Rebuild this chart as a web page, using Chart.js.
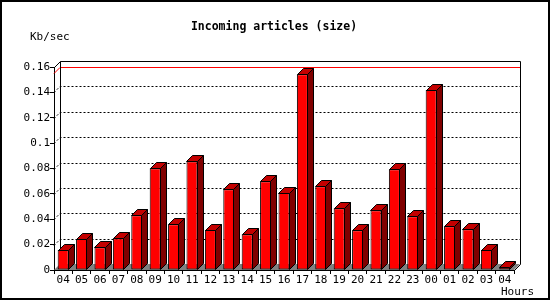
<!DOCTYPE html>
<html>
<head>
<meta charset="utf-8">
<script src="https://cdn.jsdelivr.net/npm/chart.js@4/dist/chart.umd.min.js"></script>
<style>
  html, body { margin: 0; padding: 0; background: #fff; }
  canvas { display: block; }
</style>
</head>
<body>
<canvas id="chart" width="550" height="300"></canvas>
<script>
// hours of the day, starting at 04 and wrapping round
var hours = ['04', '05', '06', '07', '08', '09', '10', '11', '12', '13', '14', '15', '16',
             '17', '18', '19', '20', '21', '22', '23', '00', '01', '02', '03', '04'];

// incoming articles, Kb/sec
var kbPerSec = [0.0158, 0.0244, 0.0179, 0.0250, 0.0431, 0.0801, 0.0360, 0.0857, 0.0315,
                0.0636, 0.0281, 0.0699, 0.0607, 0.1543, 0.0660, 0.0486, 0.0313, 0.0470,
                0.0794, 0.0423, 0.1419, 0.0344, 0.0321, 0.0158, 0.0021];

var yTicks = [0, 0.02, 0.04, 0.06, 0.08, 0.1, 0.12, 0.14, 0.16];

var DEPTH = 6;
var MONO = '"DejaVu Sans Mono", "Liberation Mono", monospace';

// back wall, floor, grid and max line -- everything that sits behind the bars
var backdrop = {
    id: 'backdrop',
    beforeDatasetsDraw: function (chart) {
        var ctx = chart.ctx, a = chart.chartArea, y = chart.scales.y, d = DEPTH;
        ctx.save();
        ctx.lineWidth = 1;

        // floor
        ctx.fillStyle = '#808080';
        ctx.beginPath();
        ctx.moveTo(a.left, a.bottom);
        ctx.lineTo(a.left + d, a.bottom - d);
        ctx.lineTo(a.right + d, a.bottom - d);
        ctx.lineTo(a.right, a.bottom);
        ctx.closePath();
        ctx.fill();

        // dotted grid on the back wall
        ctx.strokeStyle = '#000';
        ctx.setLineDash([2, 2]);
        yTicks.slice(1, -1).forEach(function (v) {
            var py = Math.round(y.getPixelForValue(v)) + 0.5;
            ctx.beginPath();
            ctx.moveTo(a.left, py);
            ctx.lineTo(a.left + d, py - d);
            ctx.lineTo(a.right + d, py - d);
            ctx.stroke();
        });
        ctx.setLineDash([]);

        // red line at the maximum
        var my = Math.round(y.getPixelForValue(Math.max.apply(null, kbPerSec))) - 0.5;
        ctx.strokeStyle = '#ff0000';
        ctx.beginPath();
        ctx.moveTo(a.left, my);
        ctx.lineTo(a.left + d, my - d);
        ctx.lineTo(a.right + d, my - d);
        ctx.stroke();

        // back wall frame
        var l = Math.round(a.left) + 0.5, r = Math.round(a.right) + 0.5;
        var t = Math.round(a.top) + 0.5, b = Math.round(a.bottom) + 0.5;
        ctx.strokeStyle = '#000';
        ctx.beginPath();
        ctx.moveTo(l, t);
        ctx.lineTo(l + d, t - d);
        ctx.lineTo(r + d, t - d);
        ctx.lineTo(r + d, b - d);
        ctx.lineTo(r, b);
        ctx.moveTo(l + d, t - d);
        ctx.lineTo(l + d, b - d);
        ctx.stroke();
        ctx.restore();
    }
};

// top and side faces of each bar
var bars3d = {
    id: 'bars3d',
    afterDatasetsDraw: function (chart) {
        var ctx = chart.ctx, d = DEPTH;
        var meta = chart.getDatasetMeta(0);
        ctx.save();
        ctx.lineWidth = 1;
        ctx.strokeStyle = '#000';
        meta.data.forEach(function (bar) {
            var p = bar.getProps(['x', 'y', 'base', 'width'], true);
            var left = Math.round(p.x - p.width / 2) + 0.5;
            var right = Math.round(p.x + p.width / 2) - 0.5;
            var top = Math.round(p.y) + 0.5;
            var base = Math.round(p.base) - 0.5;

            ctx.fillStyle = '#c40000';
            ctx.beginPath();
            ctx.moveTo(left, top);
            ctx.lineTo(left + d, top - d);
            ctx.lineTo(right + d, top - d);
            ctx.lineTo(right, top);
            ctx.closePath();
            ctx.fill();
            ctx.stroke();

            ctx.fillStyle = '#800000';
            ctx.beginPath();
            ctx.moveTo(right, top);
            ctx.lineTo(right + d, top - d);
            ctx.lineTo(right + d, base - d);
            ctx.lineTo(right, base);
            ctx.closePath();
            ctx.fill();
            ctx.stroke();
        });
        ctx.restore();
    }
};

// title, unit labels and the outer border
var extras = {
    id: 'extras',
    afterDraw: function (chart) {
        var ctx = chart.ctx;
        ctx.save();
        ctx.fillStyle = '#000';
        ctx.textBaseline = 'middle';

        ctx.font = 'bold 11.5px ' + MONO;
        ctx.textAlign = 'center';
        ctx.fillText('Incoming articles (size)', 274, 27);

        ctx.font = '11px ' + MONO;
        ctx.textAlign = 'left';
        ctx.fillText('Kb/sec', 30, 37);
        ctx.textAlign = 'right';
        ctx.fillText('Hours', 534, 292);

        ctx.lineWidth = 2;
        ctx.strokeStyle = '#000';
        ctx.strokeRect(1, 1, chart.width - 2, chart.height - 2);
        ctx.restore();
    }
};

new Chart(document.getElementById('chart'), {
    type: 'bar',
    data: {
        labels: hours,
        datasets: [{
            data: kbPerSec,
            backgroundColor: '#ff0000',
            borderColor: '#000',
            borderWidth: 1,
            borderSkipped: false,
            categoryPercentage: 1,
            barPercentage: 0.6
        }]
    },
    options: {
        responsive: false,
        animation: false,
        devicePixelRatio: 1,
        layout: { padding: { left: 0, right: 36, top: 67, bottom: 0 } },
        plugins: {
            legend: { display: false },
            tooltip: { enabled: false },
            title: { display: false }
        },
        scales: {
            x: {
                grid: { display: true, drawOnChartArea: false, drawTicks: true, tickLength: 4, color: '#000', offset: true },
                border: { display: true, color: '#000', width: 1 },
                ticks: { color: '#000', font: { family: MONO, size: 11 }, padding: 0, maxRotation: 0, autoSkip: false },
                afterFit: function (scale) { scale.height = 30; }
            },
            y: {
                min: 0,
                max: 0.16,
                afterBuildTicks: function (scale) {
                    scale.ticks = yTicks.map(function (v) { return { value: v }; });
                },
                grid: { display: true, drawOnChartArea: false, drawTicks: true, tickLength: 4, color: '#000' },
                border: { display: true, color: '#000', width: 1 },
                ticks: {
                    color: '#000',
                    font: { family: MONO, size: 11 },
                    padding: 0,
                    callback: function (v) { return String(+v.toFixed(2)); }
                },
                afterFit: function (scale) { scale.width = 54; }
            }
        }
    },
    plugins: [backdrop, bars3d, extras]
});
</script>
</body>
</html>
